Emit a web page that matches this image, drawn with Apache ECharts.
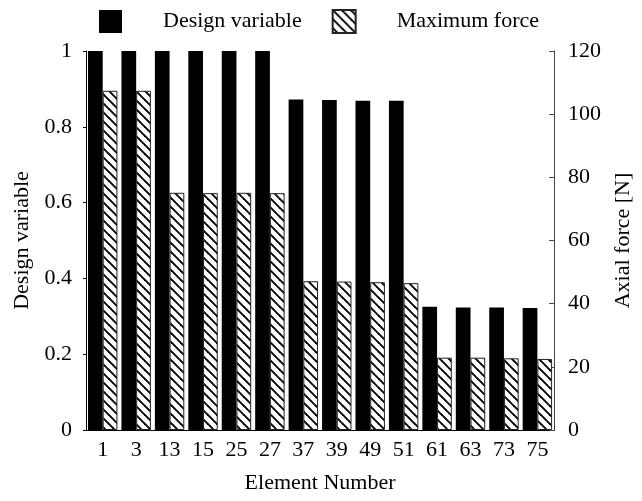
<!DOCTYPE html>
<html>
<head>
<meta charset="utf-8">
<script src="https://cdn.jsdelivr.net/npm/echarts@6/dist/echarts.min.js"></script>
<style>
html,body{margin:0;padding:0;background:#fff;}
#chart{width:642px;height:501px;}
</style>
</head>
<body>
<div id="chart"></div>
<script>
var categories = ['1','3','13','15','25','27','37','39','49','51','61','63','73','75'];
var designVariable = [1,1,1,1,1,1,0.872,0.871,0.869,0.869,0.325,0.323,0.323,0.322];
var maximumForce = [107.4,107.4,75.1,75.0,75.1,75.0,47.1,47.0,46.8,46.5,22.9,22.9,22.7,22.5];

var FONT = 'Liberation Serif';
var FS = 22;

function hatchCanvas(){
  var s = 9;
  var c = document.createElement('canvas');
  c.width = s; c.height = s;
  var g = c.getContext('2d');
  g.fillStyle = '#fff';
  g.fillRect(0,0,s,s);
  g.strokeStyle = '#000';
  g.lineWidth = 1.9;
  for (var k=-1;k<=1;k++){
    g.beginPath();
    g.moveTo(-2, -2 + k*s);
    g.lineTo(s+2, s+2 + k*s);
    g.stroke();
  }
  return c;
}
var hatch = {image: hatchCanvas(), repeat: 'repeat'};

var chart = echarts.init(document.getElementById('chart'), null, {renderer:'canvas'});
chart.setOption({
  animation: false,
  backgroundColor: '#fff',
  textStyle: {fontFamily: FONT, color: '#000'},
  legend: {
    left: 99, top: 9, padding: 0,
    itemWidth: 23, itemHeight: 23, itemGap: 30,
    textStyle: {fontFamily: FONT, fontSize: FS, color: '#000', padding: [0,0,0,36]},
    data: [
      {name: 'Design variable', icon: 'rect'},
      {name: 'Maximum force', icon: 'rect'}
    ]
  },
  grid: {left: 86, right: 79, top: 51, bottom: 71, containLabel: false},
  xAxis: [{
    type: 'category', data: categories, position: 'bottom',
    name: 'Element Number', nameLocation: 'middle', nameGap: 42,
    nameTextStyle: {fontFamily: FONT, fontSize: FS, color: '#000'},
    axisLine: {lineStyle: {color: '#000', width: 1}},
    axisTick: {inside: true, length: 5, lineStyle: {color: '#000'}},
    axisLabel: {fontFamily: FONT, fontSize: FS, color: '#000', margin: 9, interval: 0},
    splitLine: {show: false}
  },{
    type: 'category', data: categories, position: 'top',
    axisLine: {lineStyle: {color: '#000', width: 1}},
    axisTick: {inside: true, length: 5, lineStyle: {color: '#000'}},
    axisLabel: {show: false},
    splitLine: {show: false}
  }],
  yAxis: [{
    type: 'value', min: 0, max: 1, interval: 0.2, position: 'left',
    name: 'Design variable', nameLocation: 'middle', nameGap: 52, nameRotate: 90,
    nameTextStyle: {fontFamily: FONT, fontSize: FS, color: '#000'},
    axisLine: {show: true, lineStyle: {color: '#000', width: 1}},
    axisTick: {show: true, inside: false, length: 3, lineStyle: {color: '#000'}},
    axisLabel: {fontFamily: FONT, fontSize: FS, color: '#000', margin: 14},
    splitLine: {show: false}
  },{
    type: 'value', min: 0, max: 120, interval: 20, position: 'right',
    name: 'Axial force [N]', nameLocation: 'middle', nameGap: 55, nameRotate: 90,
    nameTextStyle: {fontFamily: FONT, fontSize: FS, color: '#000'},
    axisLine: {show: true, lineStyle: {color: '#444', width: 1}},
    axisTick: {show: true, inside: true, length: 5, lineStyle: {color: '#444'}},
    axisLabel: {fontFamily: FONT, fontSize: FS, color: '#000', margin: 14},
    splitLine: {show: false}
  }],
  series: [{
    name: 'Design variable', type: 'bar', xAxisIndex: 0, yAxisIndex: 0,
    data: designVariable, barWidth: '44%', barGap: '0%',
    itemStyle: {color: '#000'}
  },{
    name: 'Maximum force', type: 'bar', xAxisIndex: 0, yAxisIndex: 1,
    data: maximumForce, barWidth: '44%', barGap: '0%',
    itemStyle: {color: hatch, borderColor: '#222', borderWidth: 1}
  }]
});
</script>
</body>
</html>
